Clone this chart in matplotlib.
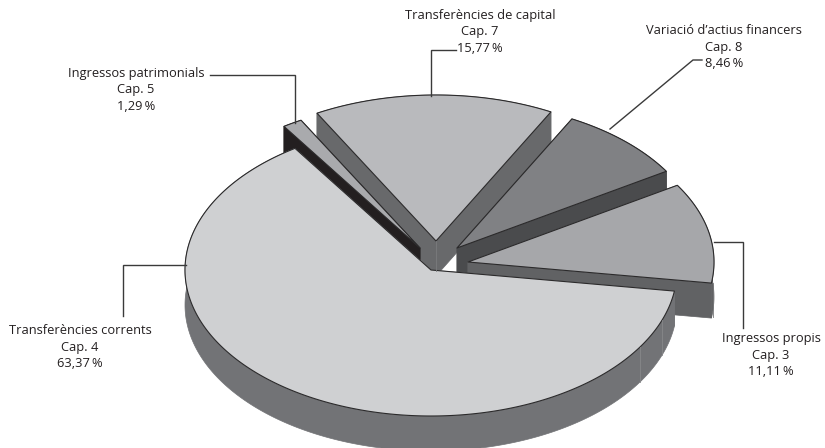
# Exploded 3D style pie chart, drawn in pixel coordinates
import numpy as np
import matplotlib
matplotlib.use('Agg')
import matplotlib.pyplot as plt
from matplotlib.patches import Polygon

plt.rcParams['font.family'] = ['Open Sans', 'DejaVu Sans']

# Data, counter clockwise from the right side of the pie
names = ['Ingressos propis', "Variació d’actius financers", 'Transferències de capital',
         'Ingressos patrimonials', 'Transferències corrents']
chapters = ['Cap. 3', 'Cap. 8', 'Cap. 7', 'Cap. 5', 'Cap. 4']
shares = [11.11, 8.46, 15.77, 1.29, 63.37]
share_labels = ['11,11\u2009%', '8,46\u2009%', '15,77\u2009%', '1,29\u2009%', '63,37\u2009%']

top_colors = ['#a6a7aa', '#808184', '#b9babd', '#a9aaad', '#cfd0d2']
side_colors = ['#616264', '#4a4b4d', '#68696b', '#231f20', '#727376']

# Apex of each slice after the explosion
apex = [(468, 262), (457, 248), (436, 241), (420, 248), (431, 270)]
label_pos = [(771, 355), (724, 47), (480, 32), (136, 90), (80, 347)]
leaders = [
    [(714, 242), (743, 242), (743, 328)],
    [(610, 129), (693, 60), (702, 60)],
    [(431, 96), (431, 50), (456, 50)],
    [(295, 123), (295, 75), (210, 75)],
    [(186, 265), (123, 265), (123, 316)],
]

rx, ry = 246, 146
depth = 35
start_angle = -8.3
edge = '#2b2a2b'

fig = plt.figure(figsize=(8.25, 4.48), dpi=100)
ax = fig.add_axes([0, 0, 1, 1])
ax.set_xlim(0, 825)
ax.set_ylim(448, 0)
ax.axis('off')

# Slice limits follow from the shares
ends = start_angle + np.cumsum(shares) * 3.6
starts = np.concatenate(([start_angle], ends[:-1]))


def arc_points(cx, cy, a0, a1):
    t = np.radians(np.linspace(a0, a1, max(int(a1 - a0) * 2, 8)))
    return np.column_stack((cx + rx * np.cos(t), cy - ry * np.sin(t)))


def draw_slice(i):
    cx, cy = apex[i]
    arc = arc_points(cx, cy, starts[i], ends[i])
    down = np.array([0, depth])
    c = np.array([cx, cy])
    # the two cut faces
    for p in (arc[0], arc[-1]):
        wall = [c, p, p + down, c + down]
        ax.add_patch(Polygon(wall, closed=True, fc=side_colors[i], ec=side_colors[i], lw=0.5))
    # the outer rim
    rim = np.vstack((arc, (arc + down)[::-1]))
    ax.add_patch(Polygon(rim, closed=True, fc=side_colors[i], ec=side_colors[i], lw=0.5))
    # the top face
    top = np.vstack((c, arc))
    ax.add_patch(Polygon(top, closed=True, fc=top_colors[i], ec=edge, lw=0.8, joinstyle='round'))


# back slices first, the big one last
for i in [2, 3, 1, 0, 4]:
    draw_slice(i)

# light seam on the apex of Cap. 7 and on the rim of the big slice
ax.plot([436, 436], [241, 271], color='#7b7c7e', lw=0.6)
for a in [-32, -20]:
    px = apex[4][0] + rx * np.cos(np.radians(a))
    py = apex[4][1] - ry * np.sin(np.radians(a))
    ax.plot([px, px], [py, py + depth], color='#87888a', lw=0.6)
ax.plot([713, 713], [283, 317], color='#77787a', lw=0.6)

for line in leaders:
    xs, ys = zip(*line)
    ax.plot(xs, ys, color='#3a3a3a', lw=1.0, solid_joinstyle='miter')

for i in range(5):
    x, y = label_pos[i]
    ax.text(x, y, names[i] + '\n' + chapters[i] + '\n' + share_labels[i], ha='center', va='center',
            fontsize=9.3, color='#231f20', linespacing=1.33)

fig.savefig('out.png', dpi=100)
